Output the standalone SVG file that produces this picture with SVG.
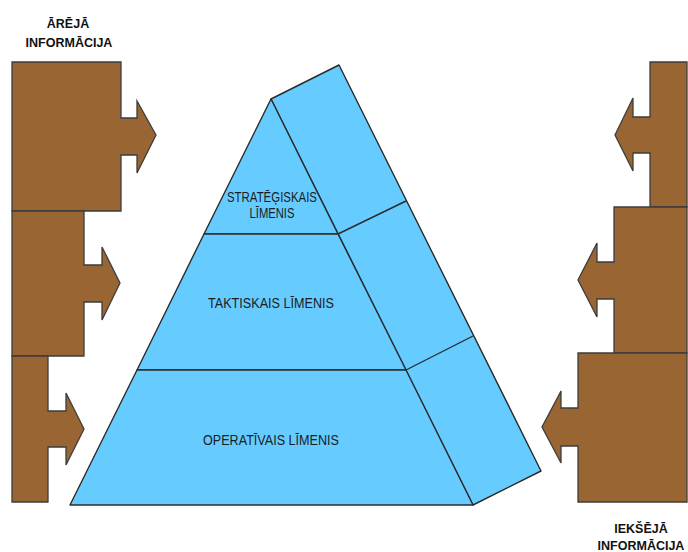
<svg xmlns="http://www.w3.org/2000/svg" width="688" height="552" viewBox="0 0 688 552">
  <style>
    .info { fill: #996633; stroke: #3d3d3d; stroke-width: 1.3; stroke-linejoin: miter; }
    .lvl { fill: #66ccff; stroke: #2b2b2b; stroke-width: 1.4; stroke-linejoin: round; }
    .edge { fill: none; stroke: #2b2b2b; stroke-width: 1.4; }
    .head { font-family: "Liberation Sans", Arial, sans-serif; font-weight: bold; font-size: 12.5px; fill: #111; text-anchor: middle; }
    .lbl { font-family: "Liberation Sans", Arial, sans-serif; font-size: 14px; fill: #1c1c24; text-anchor: middle; }
  </style>

  <!-- external information blocks (left) -->
  <g id="ext-1"><polygon class="info" points="12,62 121,62 121,118 137,118 137,101 156,135 137,173 137,155 121,155 121,211 12,211"/></g>
  <g id="ext-2"><polygon class="info" points="12,211 84,211 84,265 102,265 102,247 120,283 102,320 102,302 84,302 84,356 12,356"/></g>
  <g id="ext-3"><polygon class="info" points="12,356 48,356 48,411 66,411 66,393 84,429 66,465 66,447 48,447 48,502 12,502"/></g>

  <!-- internal information blocks (right) -->
  <g id="int-1"><polygon class="info" points="650,62 687,62 687,207 650,207 650,153 633,153 633,171 615,135 633,98 633,117 650,117"/></g>
  <g id="int-2"><polygon class="info" points="614,207 687,207 687,353 614,353 614,299 597,299 597,317 578,280 597,243 597,262 614,262"/></g>
  <g id="int-3"><polygon class="info" points="578,353 687,353 687,502 578,502 578,446 561,446 561,463 542,427 561,391 561,408 578,408"/></g>

  <!-- pyramid side face -->
  <g id="pyramid-side">
    <polygon class="lvl" points="271,99 339,65 541,471 473,505"/>
  </g>
  <g id="connectors">
    <line class="edge" x1="338" y1="234" x2="406" y2="201"/>
    <line class="edge" x1="406" y1="370" x2="473" y2="336"/>
  </g>

  <!-- pyramid levels -->
  <g id="level-strategic">
    <polygon class="lvl" points="271,99 338,234 204,234"/>
    <text class="lbl" x="272" y="202" textLength="90" lengthAdjust="spacingAndGlyphs">STRATĒĢISKAIS</text>
    <text class="lbl" x="272" y="218" textLength="45" lengthAdjust="spacingAndGlyphs">LĪMENIS</text>
  </g>
  <g id="level-tactical">
    <polygon class="lvl" points="204,234 338,234 406,370 137,370"/>
    <text class="lbl" x="271" y="308" textLength="126" lengthAdjust="spacingAndGlyphs">TAKTISKAIS LĪMENIS</text>
  </g>
  <g id="level-operational">
    <polygon class="lvl" points="137,370 406,370 473,505 70,505"/>
    <text class="lbl" x="271" y="445" textLength="136" lengthAdjust="spacingAndGlyphs">OPERATĪVAIS LĪMENIS</text>
  </g>

  <!-- headings -->
  <g id="label-external">
    <text class="head" x="68" y="28">ĀRĒJĀ</text>
    <text class="head" x="69" y="47">INFORMĀCIJA</text>
  </g>
  <g id="label-internal">
    <text class="head" x="641" y="533">IEKŠĒJĀ</text>
    <text class="head" x="641" y="550">INFORMĀCIJA</text>
  </g>
</svg>
